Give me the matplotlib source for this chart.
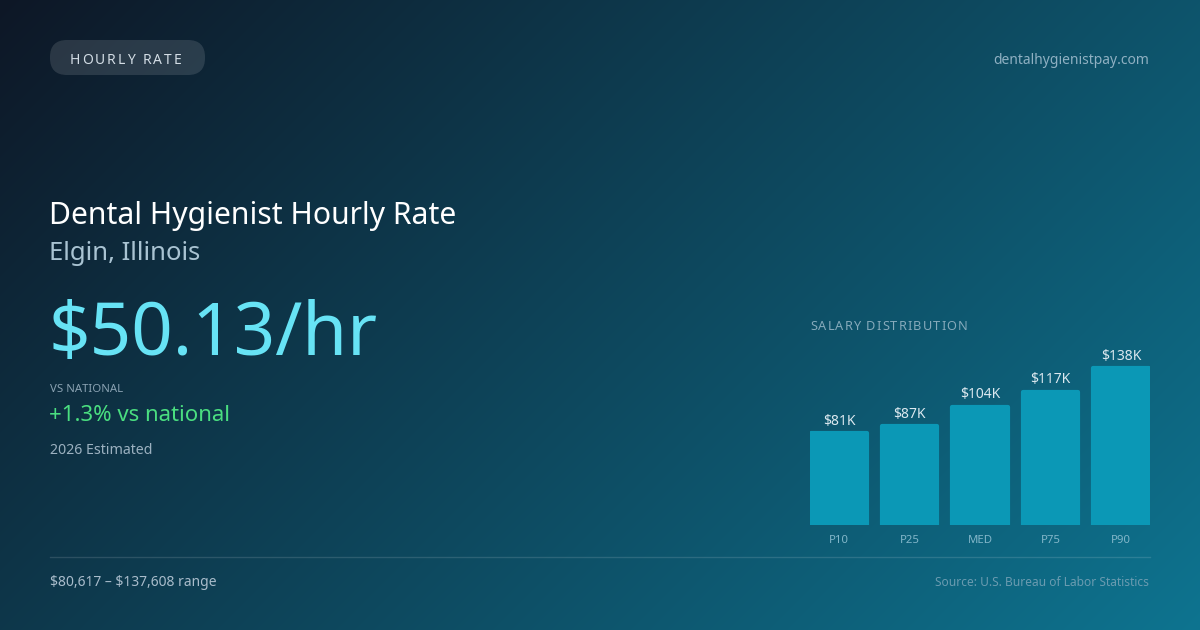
import numpy as np
import matplotlib
matplotlib.use("Agg")
import matplotlib.pyplot as plt
from matplotlib.patches import FancyBboxPatch
from matplotlib.font_manager import FontProperties
from matplotlib.colors import to_rgb

plt.rcParams["font.family"] = ["Noto Sans", "DejaVu Sans"]
plt.rcParams["text.parse_math"] = False

# data
categories = ["P10", "P25", "MED", "P75", "P90"]
salaries_k = [81, 87, 104, 117, 138]
value_labels = ["$81K", "$87K", "$104K", "$117K", "$138K"]

badge = "HOURLY RATE"
site = "dentalhygienistpay.com"
title = "Dental Hygienist Hourly Rate"
location = "Elgin, Illinois"
hourly = "$50.13/hr"
vs_label = "VS NATIONAL"
vs_text = "+1.3% vs national"
estimate = "2026 Estimated"
range_text = "$80,617 – $137,608 range"
source = "Source: U.S. Bureau of Labor Statistics"
dist_title = "SALARY DISTRIBUTION"

W, H = 1200, 630
fig = plt.figure(figsize=(12, 6.3), dpi=100)

# background, pixel coordinates
bg = fig.add_axes([0, 0, 1, 1])
bg.set_xlim(0, W)
bg.set_ylim(H, 0)
bg.axis("off")

c0 = np.array(to_rgb("#0d1726"))
c1 = np.array(to_rgb("#0e7490"))
yy, xx = np.mgrid[0:H, 0:W]
L = (W + H) * 0.7071
t = 0.5 + ((xx - W / 2) * 0.7071 + (yy - H / 2) * 0.7071) / L
t = np.clip(t, 0, 1)[..., None]
img = c0 * (1 - t) + c1 * t
bg.imshow(img, extent=(0, W, H, 0), aspect="auto", zorder=0)

renderer = fig.canvas.get_renderer()


def spaced_text(ax, x, y, s, size, color, spacing):
    fp = FontProperties(family=["Noto Sans", "DejaVu Sans"], size=size)
    for i, ch in enumerate(s):
        w = renderer.get_text_width_height_descent(s[:i], fp, ismath=False)[0] if i else 0
        ax.text(x + w + i * spacing, y, ch, fontproperties=fp, color=color,
                va="baseline", ha="left", zorder=3)


# badge
pill = FancyBboxPatch((50, 40), 155, 35, boxstyle="round,pad=0,rounding_size=17",
                      fc="white", alpha=0.12, ec="none", zorder=2)
bg.add_patch(pill)
spaced_text(bg, 70, 63.5, badge, 10, "#d3dde5", 1.9)

bg.text(1149, 63.5, site, fontsize=10, color="#8fb0c2", ha="right", va="baseline")

bg.text(49, 224, title, fontsize=21.7, color="white", va="baseline")
bg.text(49, 260, location, fontsize=18.5, color="#a9c3d2", va="baseline")
bg.text(48.5, 355, hourly, fontsize=52.3, color="#67e3f5", va="baseline")
bg.text(50, 391.7, vs_label, fontsize=8.2, color="#8aa2b2", va="baseline")
bg.text(49, 421, vs_text, fontsize=16, color="#4ade80", va="baseline")
bg.text(50, 454, estimate, fontsize=10.2, color="#9cb1c0", va="baseline")

bg.plot([50, 1150], [556.5, 556.5], color="white", alpha=0.13, lw=1)
bg.text(50, 586, range_text, fontsize=10, color="#a9bccb", va="baseline")
bg.text(1149, 586.5, source, fontsize=8.6, color="#6a9bb0", ha="right", va="baseline")

spaced_text(bg, 810, 330, dist_title, 9.2, "#86aabb", 1.1)

# bar chart axes
pitch = 70.5
half = 0.4115
x0_px, x1_px = 810, 1150
bottom_px = 525.2
scale = 1.14  # px per $K
top_px = 340
ax = fig.add_axes([x0_px / W, 1 - bottom_px / H, (x1_px - x0_px) / W,
                   (bottom_px - top_px) / H])
ax.set_xlim(-half, len(categories) - 1 + half)
ax.set_ylim(0, (bottom_px - top_px) / scale)
ax.axis("off")

x = np.arange(len(categories))
bars = ax.bar(x, salaries_k, width=2 * half - 3 / pitch, color="#0b98b6",
              edgecolor="#0b98b6", linewidth=3, joinstyle="round", zorder=2)
for xi, v, lab, cat in zip(x, salaries_k, value_labels, categories):
    ax.annotate(lab, (xi, v), xytext=(0, 6), textcoords="offset points",
                ha="center", va="baseline", fontsize=10, color="#dbe8ef",
                annotation_clip=False)
    ax.annotate(cat, (xi, 0), xytext=(0, -12.5), textcoords="offset points",
                ha="center", va="baseline", fontsize=8.2, color="#82b6c9",
                annotation_clip=False)

fig.savefig("out.png", dpi=100)
